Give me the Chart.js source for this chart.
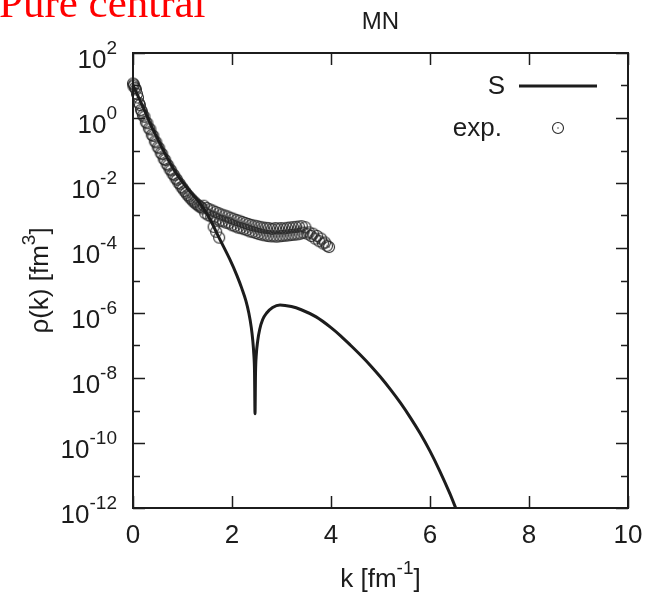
<!DOCTYPE html>
<html>
<head>
<meta charset="utf-8">
<script src="https://cdn.jsdelivr.net/npm/chart.js@4.4.1/dist/chart.umd.min.js"></script>
<style>
  html, body { margin: 0; padding: 0; background: #fff; }
</style>
</head>
<body>
<canvas id="rhoChart" width="648" height="595"></canvas>
<script>
// momentum distribution rho(k), k in fm^-1, values kept as log10(rho / fm^3)
const sK = [
  0.00, 0.10, 0.20, 0.35, 0.50, 0.70, 0.85, 1.00, 1.20, 1.35, 1.55, 1.75,
  1.95, 2.10, 2.20, 2.28, 2.34, 2.39, 2.42, 2.44, 2.455, 2.465, 2.475, 2.49,
  2.52, 2.56, 2.62, 2.70, 2.82, 2.97, 3.20, 3.40, 3.70, 4.00, 4.20, 4.40,
  4.60, 4.80, 5.00, 5.20, 5.40, 5.60, 5.80, 6.00, 6.20, 6.40, 6.52, 6.60,
];
const sLog = [
  1.00, 0.68, 0.35, -0.18, -0.65, -1.25, -1.65, -1.97, -2.35, -2.62, -3.10, -3.72,
  -4.33, -4.85, -5.25, -5.62, -6.00, -6.45, -6.85, -7.25, -7.80, -9.10, -7.85, -7.30,
  -6.85, -6.50, -6.20, -6.00, -5.83, -5.75, -5.80, -5.90, -6.12, -6.45, -6.71, -7.00,
  -7.30, -7.62, -7.97, -8.35, -8.76, -9.21, -9.70, -10.25, -10.87, -11.55, -12.00, -12.30,
];

const expK = [
  0.00, 0.01, 0.02, 0.04, 0.06, 0.08, 0.10, 0.12, 0.14, 0.16, 0.18, 0.20,
  0.23, 0.26, 0.29, 0.32, 0.35, 0.38, 0.41, 0.44, 0.47, 0.50, 0.53, 0.56,
  0.59, 0.62, 0.65, 0.68, 0.71, 0.74, 0.77, 0.80, 0.83, 0.86, 0.89, 0.92,
  0.95, 0.98, 1.01, 1.04, 1.07, 1.10, 1.13, 1.16, 1.19, 1.22, 1.25, 1.28,
  1.31, 1.34, 1.37, 1.40, 1.43, 1.46, 1.49, 1.52, 1.55, 1.58, 1.61, 1.63,
  1.64, 1.67, 1.68, 1.70, 1.73, 1.74, 1.76, 1.79, 1.82, 1.85, 1.88, 1.91,
  1.94, 1.97, 2.00, 2.03, 2.06, 2.09, 2.12, 2.15, 2.18, 2.21, 2.24, 2.27,
  2.30, 2.33, 2.36, 2.39, 2.42, 2.45, 2.48, 2.51, 2.54, 2.57, 2.60, 2.63,
  2.66, 2.69, 2.72, 2.75, 2.78, 2.81, 2.84, 2.87, 2.90, 2.93, 2.96, 2.99,
  3.02, 3.05, 3.08, 3.11, 3.14, 3.17, 3.20, 3.23, 3.26, 3.29, 3.32, 3.35,
  3.38, 3.41, 3.44, 3.48, 3.52, 3.56, 3.60, 3.64, 3.68, 3.72, 3.76, 3.80,
  3.84, 3.88, 3.92, 3.96,
];
const expLog = [
  1.06, 0.98, 1.03, 0.93, 0.88, 0.74, 0.63, 0.46, 0.40, 0.25, 0.20, 0.08,
  0.04, -0.13, -0.16, -0.32, -0.35, -0.52, -0.55, -0.72, -0.75, -0.90, -0.93, -1.08,
  -1.11, -1.26, -1.29, -1.42, -1.46, -1.58, -1.61, -1.72, -1.76, -1.86, -1.90, -2.00,
  -2.04, -2.13, -2.17, -2.25, -2.30, -2.37, -2.41, -2.47, -2.51, -2.57, -2.60, -2.65,
  -2.68, -2.72, -2.74, -2.78, -2.70, -2.93, -2.77, -2.99, -2.81, -3.03, -2.85, -3.35,
  -3.06, -2.89, -3.50, -3.12, -2.93, -3.68, -3.16, -2.97, -3.18, -3.00, -3.22, -3.03,
  -3.24, -3.07, -3.30, -3.10, -3.33, -3.14, -3.37, -3.16, -3.39, -3.20, -3.42, -3.23,
  -3.45, -3.26, -3.49, -3.29, -3.51, -3.31, -3.54, -3.33, -3.57, -3.35, -3.59, -3.37,
  -3.61, -3.38, -3.63, -3.39, -3.64, -3.41, -3.64, -3.39, -3.65, -3.40, -3.64, -3.39,
  -3.63, -3.40, -3.62, -3.38, -3.61, -3.37, -3.60, -3.36, -3.59, -3.35, -3.58, -3.34,
  -3.56, -3.33, -3.53, -3.36, -3.56, -3.52, -3.63, -3.56, -3.71, -3.63, -3.79, -3.71,
  -3.86, -3.83, -3.93, -3.97,
];

const xTicks = [0, 2, 4, 6, 8, 10];
const yMajorExp = [2, 0, -2, -4, -6, -8, -10, -12];
const yMinorExp = [1, -1, -3, -5, -7, -9, -11];

const FONT = '"Liberation Sans", Arial, Helvetica, sans-serif';
const INK = '#1c1c1c';
const LABEL_PX = 26;
const SUP_PX = 19;

function toPoints(ks, logs) {
  return ks.map((k, i) => ({ x: k, y: Math.pow(10, logs[i]) }));
}

// open circle with a dot in the middle, used for the data points
function ringMarker(r) {
  const size = Math.ceil(r * 2 + 3);
  const c = document.createElement('canvas');
  c.width = size;
  c.height = size;
  const g = c.getContext('2d');
  g.strokeStyle = '#2a2a2a';
  g.lineWidth = 1.1;
  g.beginPath();
  g.arc(size / 2, size / 2, r, 0, Math.PI * 2);
  g.stroke();
  g.fillStyle = '#2a2a2a';
  g.fillRect(size / 2 - 0.6, size / 2 - 0.6, 1.2, 1.2);
  return c;
}
const ring = ringMarker(5.5);

// text with a raised exponent; align is 'left' | 'center' | 'right'
function powText(ctx, parts, x, y, align, size, supSize, rise) {
  const widths = parts.map(p => {
    ctx.font = (p.sup ? supSize : size) + 'px ' + FONT;
    return ctx.measureText(p.t).width;
  });
  const total = widths.reduce((a, b) => a + b, 0);
  let cx = align === 'right' ? x - total : align === 'center' ? x - total / 2 : x;
  ctx.textAlign = 'left';
  ctx.textBaseline = 'alphabetic';
  parts.forEach((p, i) => {
    ctx.font = (p.sup ? supSize : size) + 'px ' + FONT;
    ctx.fillText(p.t, cx, p.sup ? y - rise : y);
    cx += widths[i];
  });
}

const decorations = {
  id: 'decorations',
  beforeDraw(chart) {
    const ctx = chart.ctx;
    ctx.save();
    ctx.fillStyle = '#fff';
    ctx.fillRect(0, 0, chart.width, chart.height);
    ctx.restore();
  },
  afterDraw(chart) {
    const ctx = chart.ctx;
    const a = chart.chartArea;
    const xs = chart.scales.x;
    const ys = chart.scales.y;
    ctx.save();

    // ticks, pointing inwards on all four sides
    ctx.strokeStyle = INK;
    ctx.lineWidth = 1.5;
    ctx.beginPath();
    xTicks.forEach(v => {
      const px = Math.round(xs.getPixelForValue(v)) + 0.5;
      ctx.moveTo(px, a.bottom); ctx.lineTo(px, a.bottom - 12);
      ctx.moveTo(px, a.top); ctx.lineTo(px, a.top + 12);
    });
    yMajorExp.forEach(e => {
      const py = Math.round(ys.getPixelForValue(Math.pow(10, e))) + 0.5;
      ctx.moveTo(a.left, py); ctx.lineTo(a.left + 12, py);
      ctx.moveTo(a.right, py); ctx.lineTo(a.right - 12, py);
    });
    yMinorExp.forEach(e => {
      const py = Math.round(ys.getPixelForValue(Math.pow(10, e))) + 0.5;
      ctx.moveTo(a.left, py); ctx.lineTo(a.left + 7, py);
      ctx.moveTo(a.right, py); ctx.lineTo(a.right - 7, py);
    });
    ctx.stroke();

    // frame
    ctx.lineWidth = 2;
    ctx.strokeRect(a.left, a.top, a.right - a.left, a.bottom - a.top);

    // tick labels
    ctx.fillStyle = INK;
    ctx.font = LABEL_PX + 'px ' + FONT;
    ctx.textAlign = 'center';
    ctx.textBaseline = 'alphabetic';
    xTicks.forEach(v => {
      ctx.fillText(String(v), xs.getPixelForValue(v), a.bottom + 35);
    });
    yMajorExp.forEach(e => {
      const py = ys.getPixelForValue(Math.pow(10, e));
      powText(ctx, [{ t: '10' }, { t: String(e), sup: true }],
        117, py + 15, 'right', LABEL_PX, SUP_PX, 14);
    });

    // axis titles and plot title
    powText(ctx, [{ t: 'k [fm' }, { t: '-1', sup: true }, { t: ']' }],
      (a.left + a.right) / 2, 587, 'center', LABEL_PX, SUP_PX, 13);
    ctx.save();
    ctx.translate(48, (a.top + a.bottom) / 2);
    ctx.rotate(-Math.PI / 2);
    powText(ctx, [{ t: 'ρ(k) [fm' }, { t: '3', sup: true }, { t: ']' }],
      0, 0, 'center', LABEL_PX, SUP_PX, 13);
    ctx.restore();
    ctx.fillStyle = INK;
    ctx.font = '24px ' + FONT;
    ctx.textAlign = 'center';
    ctx.textBaseline = 'alphabetic';
    ctx.fillText('MN', (a.left + a.right) / 2, 29);

    // key
    ctx.font = LABEL_PX + 'px ' + FONT;
    ctx.textAlign = 'right';
    ctx.textBaseline = 'middle';
    ctx.fillText('S', 505, 87);
    ctx.fillText('exp.', 502, 129);
    ctx.lineWidth = 3;
    ctx.beginPath();
    ctx.moveTo(519, 86);
    ctx.lineTo(597, 86);
    ctx.stroke();
    ctx.drawImage(ring, 558 - ring.width / 2, 128 - ring.height / 2);

    // panel caption
    ctx.fillStyle = '#ff0000';
    ctx.font = '43px "Liberation Serif", "Times New Roman", serif';
    ctx.textAlign = 'left';
    ctx.textBaseline = 'alphabetic';
    ctx.fillText('Pure central', -1, 17);

    ctx.restore();
  },
};

new Chart(document.getElementById('rhoChart').getContext('2d'), {
  type: 'scatter',
  data: {
    datasets: [
      {
        label: 'S',
        data: toPoints(sK, sLog),
        showLine: true,
        borderColor: INK,
        borderWidth: 3,
        pointRadius: 0,
        cubicInterpolationMode: 'monotone',
        clip: 0,
        order: 0,
      },
      {
        label: 'exp.',
        data: toPoints(expK, expLog),
        showLine: false,
        pointStyle: ring,
        clip: false,
        order: 1,
      },
    ],
  },
  options: {
    responsive: false,
    animation: false,
    events: [],
    layout: { padding: { left: 133, right: 20, top: 53, bottom: 87 } },
    plugins: {
      legend: { display: false },
      tooltip: { enabled: false },
    },
    scales: {
      x: { type: 'linear', min: 0, max: 10, display: false },
      y: { type: 'logarithmic', min: 1e-12, max: 1e2, display: false },
    },
  },
  plugins: [decorations],
});
</script>
</body>
</html>
